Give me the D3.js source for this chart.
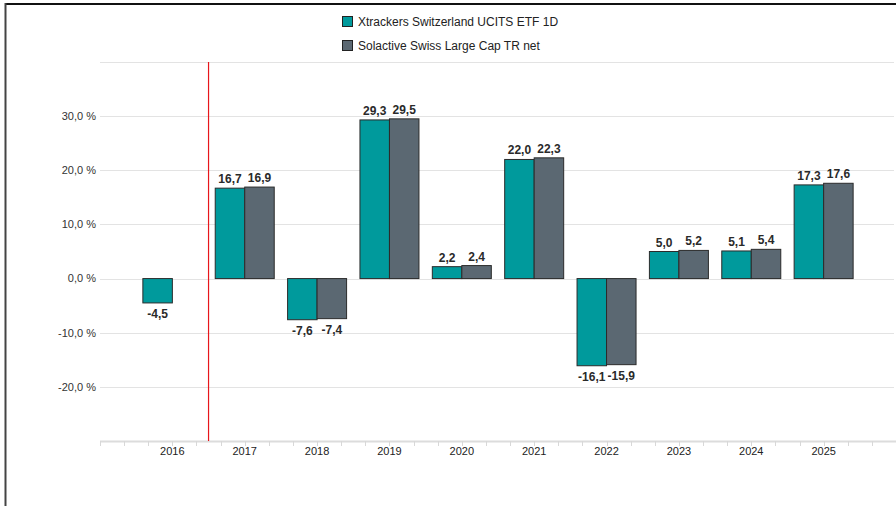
<!DOCTYPE html>
<html><head><meta charset="utf-8">
<script src="https://cdn.jsdelivr.net/npm/d3@7"></script>
<style>html,body{margin:0;padding:0;background:#fff;}svg{display:block;font-family:"Liberation Sans",Arial,sans-serif;}</style>
</head><body>
<svg id="c" width="896" height="506"></svg>
<script>
const years = ["2016","2017","2018","2019","2020","2021","2022","2023","2024","2025"];
const etf = [-4.5,16.7,-7.6,29.3,2.2,22.0,-16.1,5.0,5.1,17.3];
const idx = [null,16.9,-7.4,29.5,2.4,22.3,-15.9,5.2,5.4,17.6];
const seriesNames = ["Xtrackers Switzerland UCITS ETF 1D","Solactive Swiss Large Cap TR net"];
const colors = ["#009a9c","#5b6872"];
const yTicks = [-20,-10,0,10,20,30];
const gridTicks = [-20,-10,0,10,20,30,40];

const svg = d3.select("#c");
const fmt = v => d3.format(".1f")(v).replace(".", ",").replace("−","-");

// frame
svg.append("line").attr("x1",5).attr("x2",896).attr("y1",4).attr("y2",4).attr("stroke","#111").attr("stroke-width",2);
svg.append("line").attr("x1",5.5).attr("x2",5.5).attr("y1",3).attr("y2",506).attr("stroke","#444").attr("stroke-width",2);

const x = d3.scaleLinear().domain([-1,10]).range([100,896]);
const y = d3.scaleLinear().domain([-30,40]).range([441,62]);
const bw = 29.5;

// grid
svg.append("g").selectAll("line").data(gridTicks).join("line")
  .attr("x1",100).attr("x2",894).attr("y1",d=>Math.round(y(d))+0.5).attr("y2",d=>Math.round(y(d))+0.5)
  .attr("stroke","#e3e3e3").attr("stroke-width",1);

// y labels
svg.append("g").selectAll("text").data(yTicks).join("text")
  .attr("x",96).attr("y",d=>y(d)).attr("dy","0.35em").attr("text-anchor","end")
  .attr("font-size",11).attr("fill","#333").text(d=>fmt(d)+" %");

// x axis
const xa = svg.append("g").attr("transform","translate(0,441)");
xa.append("line").attr("x1",100).attr("x2",896).attr("y1",0.5).attr("y2",0.5).attr("stroke","#dcdcdc").attr("stroke-width",2);
const minor = d3.range(-1,10.01,1/3);
xa.selectAll("line.t").data(minor).join("line").attr("class","t")
  .attr("x1",d=>Math.round(x(d))+0.5).attr("x2",d=>Math.round(x(d))+0.5).attr("y1",0).attr("y2",5)
  .attr("stroke","#d8d8d8").attr("stroke-width",1);
xa.selectAll("text").data(years).join("text")
  .attr("x",(d,i)=>x(i)).attr("y",14).attr("text-anchor","middle")
  .attr("font-size",11).attr("fill","#222").text(d=>d);

// bars
const data = [];
years.forEach((yr,i)=>{
  [etf[i],idx[i]].forEach((v,s)=>{ if(v!==null) data.push({i,s,v}); });
});
svg.append("g").selectAll("rect").data(data).join("rect")
  .attr("x",d=>x(d.i)+(d.s===0?-bw:0))
  .attr("y",d=>y(Math.max(0,d.v)))
  .attr("width",bw)
  .attr("height",d=>Math.abs(y(d.v)-y(0)))
  .attr("fill",d=>colors[d.s]).attr("stroke","#2b2b2b").attr("stroke-width",1);

svg.append("g").selectAll("text").data(data).join("text")
  .attr("x",d=>x(d.i)+(d.s===0?-bw/2:bw/2))
  .attr("y",d=>d.v>=0? y(d.v)-5 : y(d.v)+15)
  .attr("text-anchor","middle").attr("font-size",12).attr("font-weight","bold").attr("fill","#2a2a2a")
  .text(d=>fmt(d.v));

// red divider
svg.append("line").attr("x1",x(0.5)).attr("x2",x(0.5)).attr("y1",62).attr("y2",441)
  .attr("stroke","#e8161b").attr("stroke-width",1.2);

// legend
const lg = svg.append("g");
seriesNames.forEach((n,k)=>{
  const cy = 22 + k*24;
  lg.append("rect").attr("x",342.5).attr("y",cy-5.5).attr("width",10).attr("height",10)
    .attr("fill",colors[k]).attr("stroke","#222").attr("stroke-width",1);
  lg.append("text").attr("x",358).attr("y",cy).attr("dy","0.35em").attr("font-size",12).attr("fill","#222").text(n);
});
</script>
</body></html>
